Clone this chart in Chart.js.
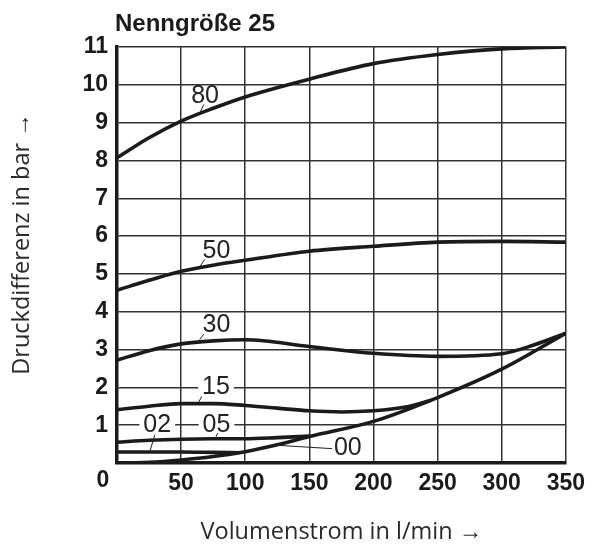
<!DOCTYPE html>
<html>
<head>
<meta charset="utf-8">
<script src="https://cdn.jsdelivr.net/npm/chart.js@4.4.1/dist/chart.umd.min.js"></script>
<style>
  html, body { margin: 0; padding: 0; background: #fff; }
  #wrap { width: 592px; height: 547px; position: relative; }
</style>
</head>
<body>
<div id="wrap"><canvas id="c" width="592" height="547"></canvas></div>
<script>
// ---- data ----
const titleText = 'Nenngröße 25';
const xTitle = 'Volumenstrom in l/min \u2192';
const yTitle = 'Druckdifferenz in bar \u2192';

const flow80 = [0, 25, 50, 75, 100, 150, 200, 250, 300, 350];
const dp80   = [8.07, 8.6, 9.04, 9.38, 9.68, 10.15, 10.56, 10.8, 10.95, 11.0];

const flow50 = [0, 25, 50, 75, 100, 150, 200, 250, 300, 350];
const dp50   = [4.57, 4.83, 5.07, 5.23, 5.36, 5.6, 5.73, 5.84, 5.86, 5.84];

const flow30 = [0, 25, 50, 75, 100, 150, 200, 250, 300, 325, 350];
const dp30   = [2.72, 2.97, 3.15, 3.23, 3.26, 3.08, 2.9, 2.82, 2.89, 3.12, 3.43];

const flow15 = [0, 25, 50, 75, 100, 125, 150, 175, 200, 225, 245];
const dp15   = [1.41, 1.5, 1.57, 1.57, 1.52, 1.45, 1.38, 1.35, 1.38, 1.48, 1.66];

const flow05 = [0, 25, 50, 75, 100, 125, 150];
const dp05   = [0.55, 0.6, 0.63, 0.64, 0.64, 0.67, 0.71];

const flow02 = [0, 25, 50, 75, 95];
const dp02   = [0.29, 0.29, 0.29, 0.28, 0.27];

const flow00 = [0, 25, 50, 75, 100, 125, 150, 200, 250, 300, 350];
const dp00   = [0, 0.02, 0.08, 0.17, 0.3, 0.48, 0.7, 1.1, 1.73, 2.48, 3.43];

const xTicks = [0, 50, 100, 150, 200, 250, 300, 350];
const yTicks = [1, 2, 3, 4, 5, 6, 7, 8, 9, 10, 11];

// curve labels: text, position (data units), leader line (data units), white gap behind text
const labelNames = ['80', '50', '30', '15', '02', '05', '00'];
const labelX     = [68.7, 77.6, 77.6, 77.2, 31.4, 77.6, 180];
const labelY     = [9.72, 5.62, 3.66, 2.02, 1.02, 1.02, 0.42];
const leadX1     = [67.7, 68.3, 67.7, 66.0, 29.5, 78.6, 124.2];
const leadY1     = [9.48, 5.38, 3.41, 1.76, 0.75, 0.79, 0.47];
const leadX2     = [64.5, 64.4, 64.4, 63.6, 25.6, 76.7, 167.6];
const leadY2     = [9.25, 5.18, 3.26, 1.60, 0.30, 0.66, 0.38];
const labelGap   = [false, false, false, true, true, true, false];

function pts(xs, ys) { return xs.map((x, i) => ({ x: x, y: ys[i] })); }

const INK = '#1b1b1b';
const curveStyle = {
  showLine: true, pointRadius: 0, borderWidth: 3.6, borderColor: INK,
  backgroundColor: INK, cubicInterpolationMode: 'monotone', fill: false
};

const datasets = [
  [flow80, dp80], [flow50, dp50], [flow30, dp30], [flow15, dp15],
  [flow05, dp05], [flow02, dp02], [flow00, dp00]
].map((p, i) => Object.assign({ label: labelNames[i], data: pts(p[0], p[1]) }, curveStyle));

const TICK_FONT = { family: "'Liberation Sans Narrow', 'Liberation Sans', Arial, sans-serif", size: 23, weight: 'bold' };

const decor = {
  id: 'decor',
  afterDatasetsDraw(chart) {
    const ctx = chart.ctx, xs = chart.scales.x, ys = chart.scales.y;
    ctx.save();
    ctx.font = "25px 'Liberation Sans Narrow', 'Liberation Sans', Arial, sans-serif";
    ctx.textAlign = 'center';
    ctx.textBaseline = 'middle';
    for (let i = 0; i < labelNames.length; i++) {
      const px = xs.getPixelForValue(labelX[i]);
      const py = ys.getPixelForValue(labelY[i]);
      const w = ctx.measureText(labelNames[i]).width;
      if (labelGap[i]) {
        ctx.fillStyle = '#fff';
        ctx.fillRect(px - w / 2 - 4, py - 6, w + 8, 12);
      }
      ctx.fillStyle = '#222';
      ctx.fillText(labelNames[i], px, py + 1);
      ctx.strokeStyle = '#222';
      ctx.lineWidth = 1;
      ctx.beginPath();
      ctx.moveTo(xs.getPixelForValue(leadX1[i]), ys.getPixelForValue(leadY1[i]));
      ctx.lineTo(xs.getPixelForValue(leadX2[i]), ys.getPixelForValue(leadY2[i]));
      ctx.stroke();
    }
    ctx.restore();
  },
  afterDraw(chart) {
    const ctx = chart.ctx, xs = chart.scales.x, ys = chart.scales.y, a = chart.chartArea;
    ctx.save();
    ctx.font = `bold ${TICK_FONT.size}px ${TICK_FONT.family}`;
    ctx.fillStyle = INK;
    ctx.textAlign = 'center';
    ctx.textBaseline = 'middle';
    ctx.fillText('0', a.left - 14, ys.getPixelForValue(0) + 18);
    ctx.font = "bold 24px 'Liberation Sans', Arial, sans-serif";
    ctx.textAlign = 'left';
    ctx.textBaseline = 'alphabetic';
    ctx.fillText(titleText, a.left - 2, 31);
    ctx.font = "23.5px 'Open Sans', 'Noto Sans', sans-serif";
    ctx.fillStyle = '#2a2a2a';
    ctx.textAlign = 'center';
    ctx.textBaseline = 'middle';
    ctx.fillText(xTitle, (a.left + a.right) / 2, 532);
    ctx.translate(22, 244);
    ctx.rotate(-Math.PI / 2);
    ctx.fillText(yTitle, 0, 0);
    ctx.restore();
  }
};

new Chart(document.getElementById('c'), {
  type: 'scatter',
  data: { datasets: datasets },
  options: {
    responsive: false,
    animation: false,
    devicePixelRatio: 1,
    layout: { padding: { left: 0, top: 47, right: 23, bottom: 0 } },
    plugins: { legend: { display: false }, tooltip: { enabled: false }, title: { display: false } },
    scales: {
      x: {
        type: 'linear', min: 0, max: 350,
        afterFit(s) { s.height = 84; },
        afterBuildTicks(s) { s.ticks = xTicks.map(v => ({ value: v })); },
        ticks: {
          font: TICK_FONT, color: INK, padding: 7, maxRotation: 0, autoSkip: false,
          callback: v => (v === 0 ? '' : String(v))
        },
        grid: { color: '#333', lineWidth: 1.5, drawTicks: false },
        border: { display: true, color: INK, width: 3.5 }
      },
      y: {
        type: 'linear', min: 0, max: 11,
        afterFit(s) { s.width = 117; },
        afterBuildTicks(s) { s.ticks = [0].concat(yTicks).map(v => ({ value: v })); },
        ticks: {
          font: TICK_FONT, color: INK, padding: 9, autoSkip: false,
          callback: v => (v === 0 ? '' : String(v))
        },
        grid: { color: '#333', lineWidth: 1.5, drawTicks: false },
        border: { display: true, color: INK, width: 3.5 }
      }
    }
  },
  plugins: [decor]
});
</script>
</body>
</html>
